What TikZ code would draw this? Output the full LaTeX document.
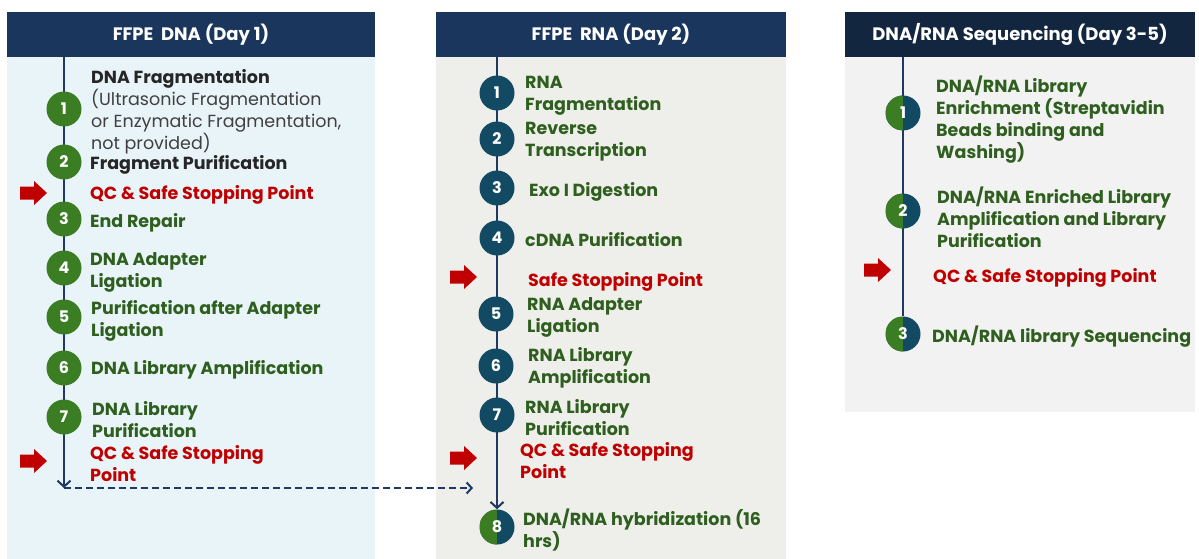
\documentclass[tikz,border=0pt]{standalone}
\usepackage{fontspec}
\setmainfont{Poppins}
\usetikzlibrary{arrows.meta,backgrounds}
\definecolor{hdrA}{HTML}{1B365D}
\definecolor{hdrC}{HTML}{13263F}
\definecolor{bgA}{HTML}{E8F4F8}
\definecolor{bgB}{HTML}{EEEEEA}
\definecolor{bgC}{HTML}{F2F2F2}
\definecolor{lineblue}{HTML}{1F3864}
\definecolor{stepgreen}{HTML}{3B7D23}
\definecolor{stepteal}{HTML}{134A63}
\definecolor{txtgreen}{HTML}{2F5F1F}
\definecolor{txtred}{HTML}{C00000}
\definecolor{txtgray}{HTML}{262626}
\definecolor{txtgrayl}{HTML}{404040}
\tikzset{
  hdr/.style={fill=#1, text=white, font=\bfseries\fontsize{18}{20}\selectfont, minimum height=45, inner sep=0},
  circ/.style={circle, minimum size=35, inner sep=0, text=white, font=\bfseries\fontsize{16}{16}\selectfont},
  gc/.style={circ, fill=stepgreen},
  tc/.style={circ, fill=stepteal},
  hc/.style={circ, fill=stepteal, path picture={\fill[stepgreen] (path picture bounding box.south west) rectangle (path picture bounding box.north);}},
  lbl/.style={anchor=west, align=left, inner sep=0, yshift=-2pt, text=txtgreen, font=\bfseries\fontsize{17.5}{22}\selectfont},
  qc/.style={lbl, text=txtred},
  flow/.style={draw=lineblue, line width=2},
  redarr/.pic={\fill[txtred] (0,-6.5) -- (14,-6.5) -- (14,-12) -- (27,0) -- (14,12) -- (14,6.5) -- (0,6.5) -- cycle;}
}
\begin{document}
\begin{tikzpicture}[x=1pt,y=-1pt]
\useasboundingbox (0,0) rectangle (1199,559);
\begin{scope}[on background layer]
\fill[bgA] (7,57) rectangle (375,559);
\fill[bgB] (436,57) rectangle (786,559);
\fill[bgC] (845,57) rectangle (1195,412);
\end{scope}
% headers
\node[hdr=hdrA, minimum width=368] (h1) at (191,34.5) {FFPE\ \ DNA (Day 1)};
\node[hdr=hdrA, minimum width=350] (h2) at (611,34.5) {FFPE\ \ RNA (Day 2)};
\node[hdr=hdrC, minimum width=350] (h3) at (1020,34.5) {DNA/RNA Sequencing (Day 3-5)};
% coordinates
\coordinate (a0) at (64,57);
\coordinate (a9) at (64,488);
\coordinate (b0) at (497,57);
\coordinate (c0) at (903,57);
\coordinate (b9) at (473,488);
% panel 1 circles
\node[gc] (a1) at (64,109) {1};
\node[gc] (a2) at (64,162) {2};
\node[gc] (a3) at (64,219) {3};
\node[gc] (a4) at (64,268) {4};
\node[gc] (a5) at (64,317) {5};
\node[gc] (a6) at (64,368) {6};
\node[gc] (a7) at (64,417) {7};
% panel 1 labels
\node[lbl, text=txtgray] (ta1) at (91,110) {DNA Fragmentation\\{\mdseries\color{txtgrayl}(Ultrasonic Fragmentation}\\{\mdseries\color{txtgrayl}or Enzymatic Fragmentation,}\\{\mdseries\color{txtgrayl}not provided)}};
\node[lbl, text=txtgray] (ta2) at (90,163) {Fragment Purification};
\node[qc] (qa1) at (90,193) {QC \& Safe Stopping Point};
\node[lbl] (ta3) at (90,221) {End Repair};
\node[lbl] (ta4) at (90,270.5) {DNA Adapter\\Ligation};
\node[lbl] (ta5) at (91,318.5) {Purification after Adapter\\Ligation};
\node[lbl] (ta6) at (91,368) {DNA Library Amplification};
\node[lbl] (ta7) at (92,418) {DNA Library\\Purification};
\node[qc] (qa2) at (90,462) {QC \& Safe Stopping\\Point};
\pic at (20,193) {redarr};
\pic at (20,461) {redarr};
% panel 2 circles
\node[tc] (b1) at (497,93) {1};
\node[tc] (b2) at (497,139) {2};
\node[tc] (b3) at (497,188) {3};
\node[tc] (b4) at (497,238) {4};
\node[tc] (b5) at (496,314) {5};
\node[tc] (b6) at (496,366) {6};
\node[tc] (b7) at (497,415) {7};
\node[hc] (b8) at (497,527) {8};
% panel 2 labels
\node[lbl] (tb1) at (525,94) {RNA\\Fragmentation};
\node[lbl] (tb2) at (525,140) {Reverse\\Transcription};
\node[lbl] (tb3) at (529,190) {Exo I Digestion};
\node[lbl] (tb4) at (525,238) {cDNA Purification};
\node[qc] (qb1) at (528,280) {Safe Stopping Point};
\node[lbl] (tb5) at (527,315) {RNA Adapter\\Ligation};
\node[lbl] (tb6) at (528,366) {RNA Library\\Amplification};
\node[lbl] (tb7) at (525,416) {RNA Library\\Purification};
\node[qc] (qb2) at (520,459) {QC \& Safe Stopping\\Point};
\node[lbl] (tb8) at (523,528.5) {DNA/RNA hybridization (16\\hrs)};
\pic at (450,277) {redarr};
\pic at (450,458) {redarr};
% panel 3 circles
\node[hc] (c1) at (903,113) {1};
\node[hc] (c2) at (903,211) {2};
\node[hc] (c3) at (903,334) {3};
% panel 3 labels
\node[lbl] (tc1) at (936,117.5) {DNA/RNA Library\\Enrichment (Streptavidin\\Beads binding and\\Washing)};
\node[lbl] (tc2) at (937,215.5) {DNA/RNA Enriched Library\\Amplification and Library\\Purification};
\node[qc] (qc1) at (933,276) {QC \& Safe Stopping Point};
\node[lbl] (tc3) at (932,335) {DNA/RNA library Sequencing};
\pic at (864,270) {redarr};
% connectors
\begin{scope}[on background layer]
\draw[flow, -{Straight Barb[length=6,width=13,line width=2]}] (a0) -- (a9);
\draw[flow, dash pattern=on 7 off 4, -{Straight Barb[length=5,width=11]}] (a9) -- (b9);
\draw[flow, -{Straight Barb[length=6,width=13,line width=2]}] (b0) -- (b8.north);
\draw[flow] (c0) -- (c3);
\end{scope}
\end{tikzpicture}
\end{document}
